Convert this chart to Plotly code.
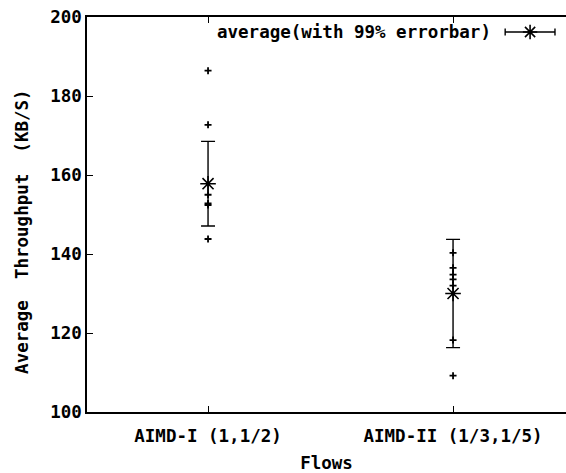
import plotly.graph_objects as go

# ---- data ----
categories = ["AIMD-I (1,1/2)", "AIMD-II (1/3,1/5)"]
runs_aimd1 = [186.4, 172.7, 155.0, 152.8, 152.4, 143.8]
runs_aimd2 = [140.3, 136.5, 134.8, 133.6, 132.0, 118.2, 109.2]
means = [157.8, 130.0]
err99 = [10.7, 13.7]
y_ticks = [100, 120, 140, 160, 180, 200]
y_tick_labels = ["100", "120", "140", "160", "180", "200"]

FONT = "DejaVu Sans Mono"
FS = 17.5
xpos = [i + 1 for i in range(len(categories))]

fig = go.Figure()

# individual runs
for xp, runs in zip(xpos, [runs_aimd1, runs_aimd2]):
    fig.add_trace(go.Scatter(
        x=[xp] * len(runs), y=runs, mode="markers",
        marker=dict(symbol="cross-thin-open", size=5, color="black",
                    line=dict(color="black", width=1.8)),
        showlegend=False, hoverinfo="y"))

# averages with 99% error bars
fig.add_trace(go.Scatter(
    x=xpos, y=means, mode="markers",
    marker=dict(symbol="asterisk-open", size=13, color="black",
                line=dict(color="black", width=1.6)),
    error_y=dict(type="data", array=err99, visible=True, color="black",
                 thickness=1.4, width=7),
    showlegend=False))

# legend sample (drawn on an overlay axis spanning the plot area)
fig.add_trace(go.Scatter(
    x=[0.925], y=[0.962], mode="markers", xaxis="x2", yaxis="y2",
    marker=dict(symbol="asterisk-open", size=12, color="black",
                line=dict(color="black", width=1.6)),
    error_x=dict(type="constant", value=0.052, visible=True, color="black",
                 thickness=1.4, width=3.5),
    showlegend=False, hoverinfo="skip"))

fig.add_annotation(text="<b>average(with 99% errorbar)</b>", xref="paper", yref="paper",
                   x=0.848, y=0.962, xanchor="right", yanchor="middle", showarrow=False,
                   font=dict(family=FONT, size=FS, color="black"))

# y-axis title
fig.add_annotation(text="<b>Average&nbsp;&nbsp;Throughput&nbsp;&nbsp;(KB/S)</b>",
                   xref="paper", yref="paper", x=0, y=0.456, xshift=-65,
                   xanchor="center", yanchor="middle", textangle=-90, showarrow=False,
                   font=dict(family=FONT, size=FS, color="black"))

fig.update_layout(
    width=566, height=473,
    margin=dict(l=87, r=0, t=17, b=61),
    plot_bgcolor="white", paper_bgcolor="white",
    showlegend=False,
    font=dict(family=FONT, size=FS, color="black"),
    xaxis=dict(range=[0.506, 2.461], tickvals=xpos,
               ticktext=["<b>%s</b>" % c for c in categories],
               showline=True, linecolor="black", linewidth=1.5, mirror="ticks",
               ticks="inside", ticklen=6, tickwidth=1.2, tickcolor="black",
               ticklabelstandoff=7,
               showgrid=False, zeroline=False,
               title=dict(text="<b>Flows</b>", standoff=12, font=dict(family=FONT, size=FS))),
    yaxis=dict(range=[100, 200], tickvals=y_ticks,
               ticktext=["<b>%s</b>" % t for t in y_tick_labels],
               showline=True, linecolor="black", linewidth=1.5, mirror=False,
               ticks="inside", ticklen=6, tickwidth=1.2, tickcolor="black",
               showgrid=False, zeroline=False),
    xaxis2=dict(overlaying="x", range=[0, 1], visible=False, fixedrange=True),
    yaxis2=dict(overlaying="y", range=[0, 1], visible=False, fixedrange=True),
)

fig.write_html("out.html")
